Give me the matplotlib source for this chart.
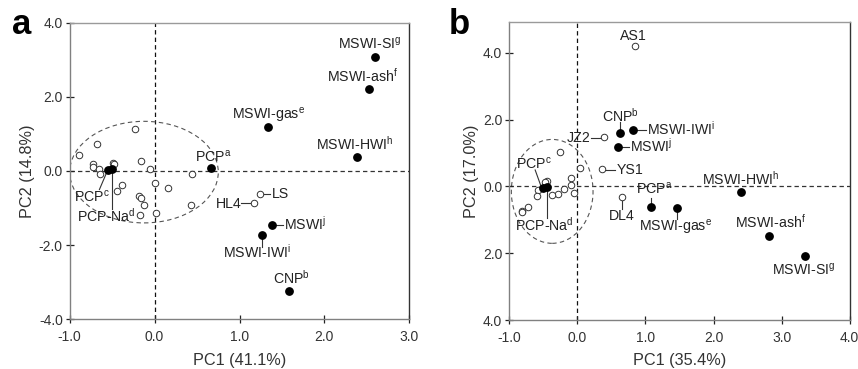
import matplotlib
matplotlib.use("Agg")
import matplotlib.pyplot as plt
from matplotlib.patches import Ellipse

plt.rcParams['font.family'] = ['Liberation Sans', 'DejaVu Sans']
plt.rcParams['mathtext.fontset'] = 'custom'
plt.rcParams['mathtext.rm'] = 'Liberation Sans'
plt.rcParams['mathtext.it'] = 'Liberation Sans'

# ---------------- Panel a data ----------------
a_open_x = [-0.89, -0.68, -0.23, -0.72, -0.72, -0.65, -0.64, -0.49, -0.48, -0.38, -0.44,
            -0.16, -0.06, 0.01, -0.18, -0.16, -0.12, -0.17, 0.02, 0.16, 0.44, 0.43]
a_open_y = [0.44, 0.74, 1.12, 0.20, 0.11, 0.06, -0.09, 0.22, 0.19, -0.39, -0.55,
            0.26, 0.05, -0.32, -0.68, -0.72, -0.92, -1.20, -1.13, -0.46, -0.07, -0.92]
a_named_open = ['LS', 'HL4']
a_named_open_x = [1.24, 1.17]
a_named_open_y = [-0.61, -0.85]

a_filled_names = ['PCP$^{\\mathregular{a}}$', 'PCP$^{\\mathregular{c}}$', 'PCP-Na$^{\\mathregular{d}}$',
                  'MSWI-gas$^{\\mathregular{e}}$', 'MSWI-ash$^{\\mathregular{f}}$',
                  'MSWI-SI$^{\\mathregular{g}}$', 'MSWI-HWI$^{\\mathregular{h}}$',
                  'MSWI-IWI$^{\\mathregular{i}}$', 'MSWI$^{\\mathregular{j}}$', 'CNP$^{\\mathregular{b}}$']
a_filled_x = [0.66, -0.55, -0.50, 1.33, 2.52, 2.60, 2.38, 1.27, 1.38, 1.58]
a_filled_y = [0.08, 0.02, 0.05, 1.19, 2.21, 3.07, 0.38, -1.73, -1.46, -3.23]

# ---------------- Panel b data ----------------
b_open_x = [-0.25, 0.04, -0.09, -0.10, -0.05, -0.19, -0.28, -0.38, -0.44, -0.48,
            -0.58, -0.60, -0.73, -0.81, -0.82]
b_open_y = [1.02, 0.54, 0.25, 0.05, -0.19, -0.09, -0.22, -0.25, 0.16, 0.13,
            -0.12, -0.28, -0.61, -0.73, -0.76]
b_named_open = ['AS1', 'JZ2', 'YS1', 'DL4']
b_named_open_x = [0.84, 0.39, 0.36, 0.65]
b_named_open_y = [4.20, 1.49, 0.51, -0.33]

b_filled_names = ['CNP$^{\\mathregular{b}}$', 'MSWI-IWI$^{\\mathregular{i}}$', 'MSWI$^{\\mathregular{j}}$',
                  'PCP$^{\\mathregular{a}}$', 'MSWI-gas$^{\\mathregular{e}}$',
                  'MSWI-HWI$^{\\mathregular{h}}$', 'MSWI-ash$^{\\mathregular{f}}$',
                  'MSWI-SI$^{\\mathregular{g}}$', 'PCP$^{\\mathregular{c}}$', 'PCP-Na$^{\\mathregular{d}}$']
b_filled_x = [0.63, 0.82, 0.59, 1.08, 1.46, 2.41, 2.82, 3.34, -0.50, -0.44]
b_filled_y = [1.59, 1.70, 1.18, -0.62, -0.66, -0.18, -1.48, -2.09, -0.04, -0.02]

a_xticks = [-1.0, 0.0, 1.0, 2.0, 3.0]
a_yticks = [-4.0, -2.0, 0.0, 2.0, 4.0]
a_yticklabels = ['-4.0', '-2.0', '0.0', '2.0', '4.0']
b_xticks = [-1.0, 0.0, 1.0, 2.0, 3.0, 4.0]
b_yticks = [-4.0, -2.0, 0.0, 2.0, 4.0]
b_yticklabels = ['4.0', '2.0', '0.0', '2.0', '4.0']

# ---------------- layout: label positions (text x, y; leader line) ----------------
a_label_pos = {
    0: (0.48, 0.26, None),
    1: (-0.95, -0.82, ((-0.65, -0.50), (-0.57, -0.07))),
    2: (-0.91, -1.37, ((-0.50, -1.02), (-0.50, 0.05))),
    3: (0.906, 1.39, None),
    4: (2.03, 2.42, None),
    5: (2.16, 3.30, None),
    6: (1.90, 0.585, None),
    7: (0.80, -2.34, ((1.27, -1.73), (1.27, -2.06))),
    8: (1.53, -1.58, ((1.42, -1.46), (1.51, -1.46))),
    9: (1.40, -3.05, None),
}
a_open_label_pos = {
    0: (1.376, -0.74, ((1.28, -0.61), (1.36, -0.61))),
    1: (0.72, -0.99, ((1.02, -0.85), (1.13, -0.85))),
}
b_label_pos = {
    0: (0.36, 1.95, ((0.63, 1.59), (0.63, 1.92))),
    1: (1.02, 1.56, ((0.86, 1.70), (1.01, 1.70))),
    2: (0.78, 1.05, ((0.63, 1.18), (0.76, 1.18))),
    3: (0.86, -0.22, ((1.08, -0.35), (1.08, -0.62))),
    4: (0.91, -1.34, ((1.46, -0.66), (1.46, -0.99))),
    5: (1.83, 0.06, None),
    6: (2.31, -1.24, None),
    7: (2.86, -2.65, None),
    8: (-0.90, 0.54, ((-0.62, 0.49), (-0.53, -0.02))),
    9: (-0.91, -1.34, ((-0.44, -0.02), (-0.44, -0.94))),
}
b_open_label_pos = {
    0: (0.63, 4.38, None),
    1: (-0.15, 1.32, ((0.20, 1.46), (0.35, 1.46))),
    2: (0.58, 0.37, ((0.41, 0.50), (0.55, 0.50))),
    3: (0.46, -1.02, ((0.65, -0.43), (0.65, -0.68))),
}

W, H = 858, 369
fig = plt.figure(figsize=(W / 100, H / 100), dpi=100)
ax_a = fig.add_axes([69.7 / W, 1 - 319.3 / H, (409.3 - 69.7) / W, (319.3 - 22.7) / H])
ax_b = fig.add_axes([509.3 / W, 1 - 320.0 / H, (849.7 - 509.3) / W, (320.0 - 22.0) / H])

LFS = 10.2
TFS = 10


def style(ax, xticks, yticks, yticklabels, xlim, ylim, xlabel, ylabel):
    ax.set_xlim(*xlim)
    ax.set_ylim(*ylim)
    ax.set_xticks(xticks)
    ax.set_xticklabels([f'{t:.1f}' for t in xticks])
    ax.set_yticks(yticks)
    ax.set_yticklabels(yticklabels)
    ax.tick_params(direction='inout', length=6, width=0.9, colors='#222222',
                   labelsize=TFS, labelcolor='#333333')
    ax.tick_params(axis='x', pad=5)
    ax.tick_params(axis='y', pad=2)
    for s in ['left', 'bottom']:
        ax.spines[s].set_color('#808080')
        ax.spines[s].set_linewidth(1.0)
    ax.spines['top'].set_color('#9a9a9a')
    ax.spines['top'].set_linewidth(1.0)
    ax.spines['right'].set_color('#333333')
    ax.spines['right'].set_linewidth(1.0)
    ax.set_xlabel(xlabel, fontsize=11.7, color='#333333', labelpad=6)
    ax.set_ylabel(ylabel, fontsize=11.7, color='#333333', labelpad=3)
    ax.axhline(0, color='#333333', lw=0.9, ls=(0, (3.5, 2.5)), zorder=1)
    ax.axvline(0, color='#111111', lw=0.9, ls=(0, (3.5, 2.5)), zorder=1)


def draw(ax, ox, oy, nox, noy, nonames, fx, fy, fnames, lpos, olpos):
    ax.scatter(ox + nox, oy + noy, s=22, facecolors='white', edgecolors='#333333',
               linewidths=0.7, zorder=3)
    ax.scatter(fx, fy, s=28, color='black', zorder=4)
    for i, name in enumerate(fnames):
        tx, ty, line = lpos[i]
        ax.text(tx, ty, name, fontsize=LFS, color='#222222', ha='left', va='baseline', zorder=5)
        if line:
            ax.plot([line[0][0], line[1][0]], [line[0][1], line[1][1]], color='#333333',
                    lw=0.8, zorder=2)
    for i, name in enumerate(nonames):
        tx, ty, line = olpos[i]
        ax.text(tx, ty, name, fontsize=LFS, color='#222222', ha='left', va='baseline', zorder=5)
        if line:
            ax.plot([line[0][0], line[1][0]], [line[0][1], line[1][1]], color='#333333',
                    lw=0.8, zorder=2)


style(ax_a, a_xticks, a_yticks, a_yticklabels, (-1.0, 3.0), (-4.0, 4.0),
      'PC1 (41.1%)', 'PC2 (14.8%)')
style(ax_b, b_xticks, b_yticks, b_yticklabels, (-1.0, 4.0), (-4.0, 4.92),
      'PC1 (35.4%)', 'PC2 (17.0%)')

ax_a.add_patch(Ellipse((-0.125, -0.03), 1.75, 2.74, fill=False, ec='#555555', lw=0.8,
                       ls=(0, (4, 3)), zorder=1))
ax_b.add_patch(Ellipse((-0.37, -0.15), 1.2, 3.11, fill=False, ec='#555555', lw=0.8,
                       ls=(0, (4, 3)), zorder=1))

draw(ax_a, a_open_x, a_open_y, a_named_open_x, a_named_open_y, a_named_open,
     a_filled_x, a_filled_y, a_filled_names, a_label_pos, a_open_label_pos)
draw(ax_b, b_open_x, b_open_y, b_named_open_x, b_named_open_y, b_named_open,
     b_filled_x, b_filled_y, b_filled_names, b_label_pos, b_open_label_pos)

fig.text(12 / W, 1 - 34 / H, 'a', fontsize=25, fontweight='bold', ha='left', va='baseline')
fig.text(449 / W, 1 - 34 / H, 'b', fontsize=25, fontweight='bold', ha='left', va='baseline')

fig.savefig('out.png', dpi=100)
